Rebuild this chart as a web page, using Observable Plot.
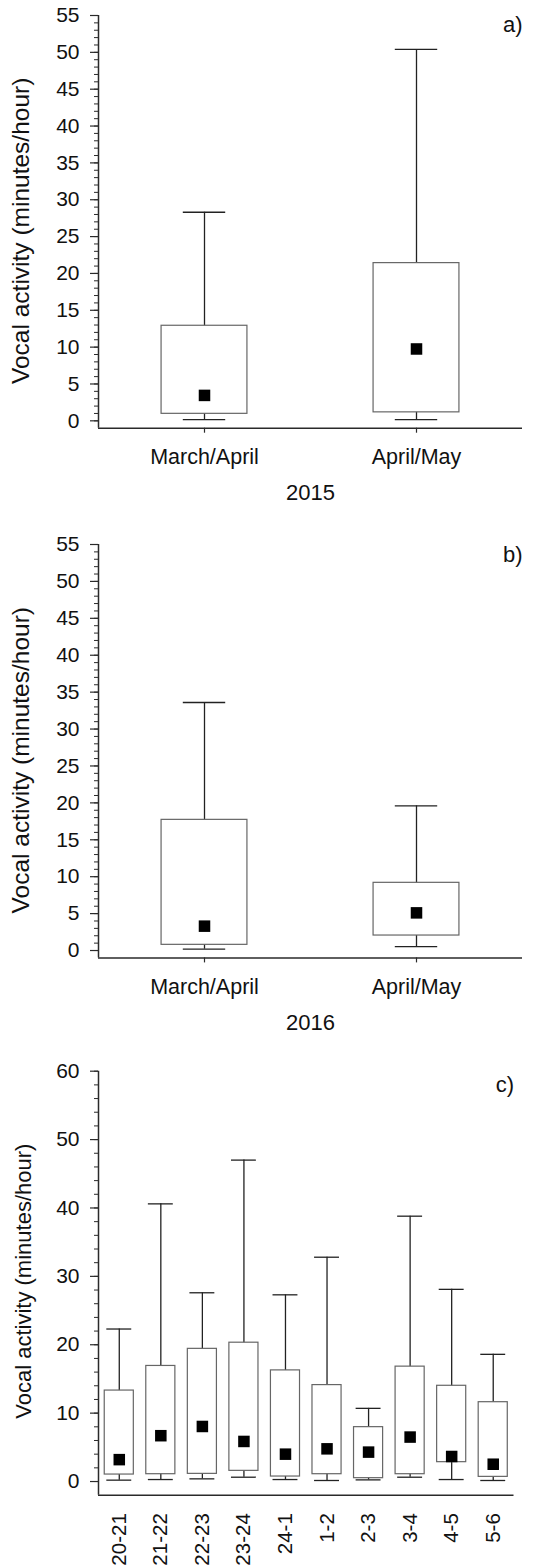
<!DOCTYPE html>
<html><head><meta charset="utf-8">
<script src="https://cdn.jsdelivr.net/npm/d3@7"></script>
<script src="https://cdn.jsdelivr.net/npm/@observablehq/plot@0.6"></script>
<style>
body{margin:0;background:#fff;}
#chart{width:533px;}
#chart svg{display:block;}
</style></head><body><div id="chart"></div>
<script>
// ---- categories ----
const periods = ["March/April", "April/May"];
const hours = ["20-21","21-22","22-23","23-24","24-1","1-2","2-3","3-4","4-5","5-6"];

// ---- panel a) 2015 ----
const a_low    = [0.15, 0.15];
const a_q1     = [0.95, 1.15];
const a_median = [3.45, 9.75];
const a_q3     = [12.9, 21.4];
const a_high   = [28.3, 50.4];

// ---- panel b) 2016 ----
const b_low    = [0.18, 0.54];
const b_q1     = [0.77, 2.03];
const b_median = [3.3, 5.1];
const b_q3     = [17.7, 9.17];
const b_high   = [33.6, 19.6];

// ---- panel c) hourly ----
const c_low    = [0.2, 0.29, 0.39, 0.63, 0.29, 0.15, 0.24, 0.63, 0.29, 0.15];
const c_q1     = [1.02, 1.07, 1.12, 1.56, 0.73, 1.07, 0.49, 1.07, 2.83, 0.68];
const c_median = [3.2, 6.7, 8.05, 5.86, 4.0, 4.78, 4.3, 6.5, 3.66, 2.53];
const c_q3     = [13.3, 16.9, 19.4, 20.3, 16.25, 14.1, 7.95, 16.8, 14.0, 11.6];
const c_high   = [22.3, 40.6, 27.6, 47.0, 27.3, 32.8, 10.7, 38.8, 28.1, 18.6];

// ---- tick labels ----
const ticksAB = [0, 5, 10, 15, 20, 25, 30, 35, 40, 45, 50, 55];
const minorAB = d3.range(0, 56, 1);
const ticksC = [0, 10, 20, 30, 40, 50, 60];
const minorC = d3.range(0, 61, 2);

const yLabel = "Vocal activity (minutes/hour)";
const FONT = "'Liberation Sans', Arial, Helvetica, sans-serif";
const AXIS = "#2a2a2a";

function boxPanel(o) {
  const n = o.cats.length;
  const rows = o.cats.map((c, i) => ({i, c, lo: o.low[i], q1: o.q1[i], med: o.med[i], q3: o.q3[i], hi: o.high[i]}));
  const marks = [
    // axis lines
    Plot.ruleY([o.yLow], {stroke: AXIS, strokeWidth: 1.5}),
    Plot.ruleX([-0.5], {y1: o.yLow, y2: o.yMax, stroke: AXIS, strokeWidth: 1.5}),
    Plot.axisY({ticks: o.minor, tickSize: 4, tickFormat: () => "", stroke: AXIS, strokeWidth: 1}),
    Plot.axisY({ticks: o.major, tickSize: 8, tickPadding: 11, fontSize: 21, tickFormat: d => String(d), stroke: AXIS, strokeWidth: 1.2}),
    o.rotated
      ? Plot.axisX({ticks: d3.range(n), tickFormat: i => o.cats[i], tickRotate: -90, tickSize: 0, tickPadding: 18, fontSize: 20.5})
      : Plot.axisX({ticks: d3.range(n), tickFormat: i => o.cats[i], tickSize: 5, tickPadding: 16, fontSize: 21.5, stroke: AXIS, strokeWidth: 1.2}),
    // whiskers
    Plot.ruleX(rows, {x: "i", y1: "lo", y2: "hi", stroke: "#222", strokeWidth: 1.3}),
    Plot.ruleY(rows, {y: "hi", x1: d => d.i - o.capW / 2, x2: d => d.i + o.capW / 2, stroke: "#222", strokeWidth: 1.3}),
    Plot.ruleY(rows, {y: "lo", x1: d => d.i - o.capW / 2, x2: d => d.i + o.capW / 2, stroke: "#222", strokeWidth: 1.3}),
    // boxes
    Plot.rect(rows, {x1: d => d.i - o.boxW / 2, x2: d => d.i + o.boxW / 2, y1: "q1", y2: "q3", fill: "white", stroke: "#666", strokeWidth: 1.2}),
    // medians
    Plot.dot(rows, {x: "i", y: "med", symbol: "square", r: 6.5, fill: "black", stroke: null}),
    // panel tag
    Plot.text([o.tag], {text: d => d, frameAnchor: "top-right", textAnchor: "end", lineAnchor: "top", fontSize: 22, dy: o.tagDy, fill: "#111"}),
    // y label
    Plot.text([yLabel], {text: d => d, frameAnchor: "left", rotate: -90, textAnchor: "middle", lineAnchor: "middle", fontSize: o.yLabelSize, dx: o.yLabelDx, dy: o.yLabelDy, fill: "#111"})
  ];
  if (o.year) marks.push(Plot.text([o.year], {text: d => d, frameAnchor: "bottom", textAnchor: "middle", lineAnchor: "top", fontSize: 22, dy: 56, fill: "#111"}));
  return Plot.plot({
    width: 533,
    height: o.height,
    marginLeft: 98,
    marginRight: o.marginRight,
    marginTop: o.marginTop,
    marginBottom: o.marginBottom,
    x: {domain: [-0.5, n - 0.5], label: null},
    y: {domain: [o.yLow, o.yMax], label: null},
    style: {fontFamily: FONT, color: "#111", background: "white"},
    marks
  });
}

const chart = document.getElementById("chart");
chart.append(boxPanel({
  cats: periods, low: a_low, q1: a_q1, med: a_median, q3: a_q3, high: a_high,
  yLow: -1, yMax: 55, major: ticksAB, minor: minorAB,
  height: 510, marginTop: 15, marginBottom: 82.3, marginRight: 11,
  boxW: 0.405, capW: 0.2, tag: "a)", tagDy: 1,
  yLabelDx: -77, yLabelDy: 9, yLabelSize: 24.5, year: "2015"
}));
chart.append(boxPanel({
  cats: periods, low: b_low, q1: b_q1, med: b_median, q3: b_q3, high: b_high,
  yLow: -1, yMax: 55, major: ticksAB, minor: minorAB,
  height: 530, marginTop: 34, marginBottom: 82.6, marginRight: 11,
  boxW: 0.405, capW: 0.2, tag: "b)", tagDy: 2,
  yLabelDx: -77, yLabelDy: 9, yLabelSize: 24.5, year: "2016"
}));
chart.append(boxPanel({
  cats: hours, low: c_low, q1: c_q1, med: c_median, q3: c_q3, high: c_high,
  yLow: -2, yMax: 60, major: ticksC, minor: minorC,
  height: 525, marginTop: 30.7, marginBottom: 70.3, marginRight: 19.5,
  boxW: 0.7, capW: 0.6, tag: "c)", tagDy: 5, rotated: true,
  yLabelDx: -75, yLabelDy: -2, yLabelSize: 22
}));
</script>
</body></html>
